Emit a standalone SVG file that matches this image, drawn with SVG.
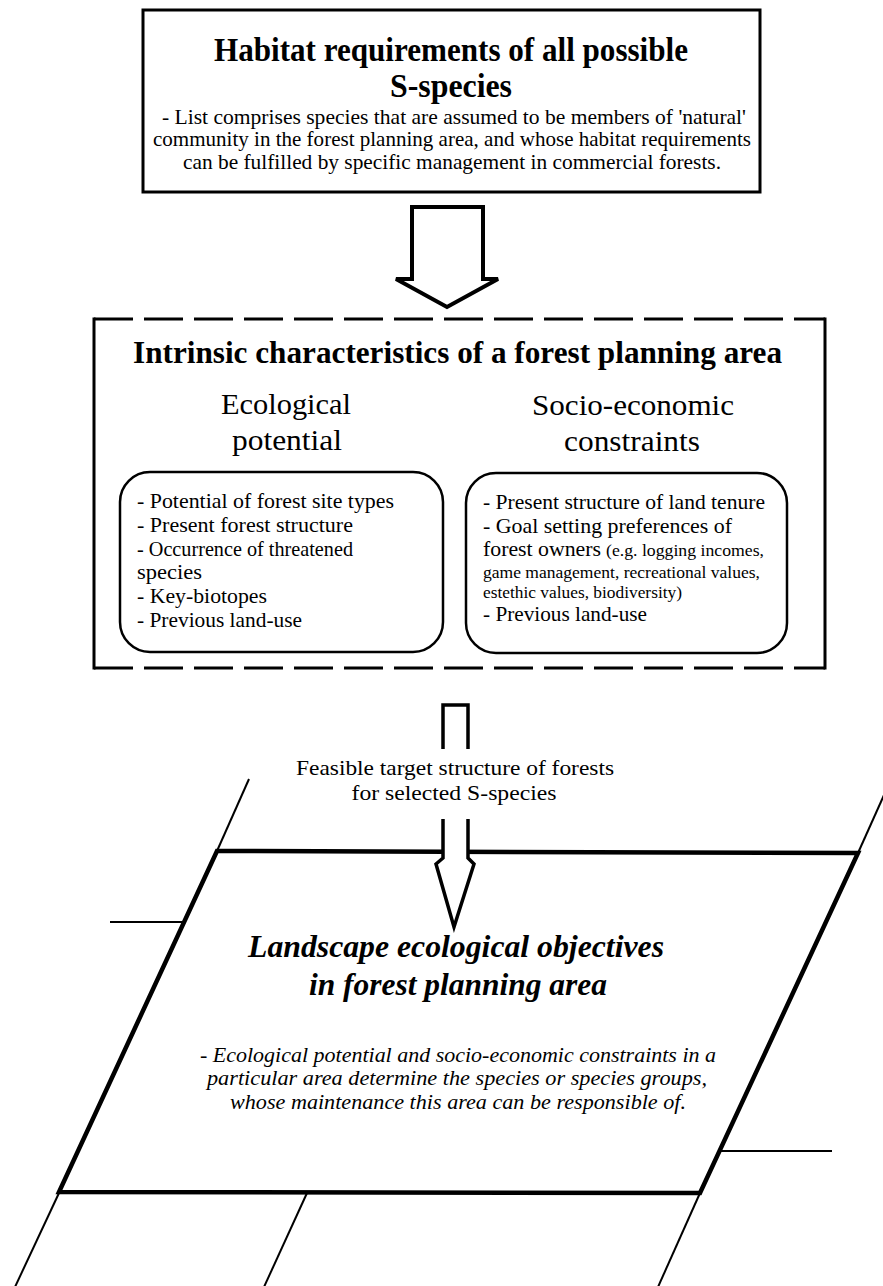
<svg xmlns="http://www.w3.org/2000/svg" width="883" height="1286" viewBox="0 0 883 1286">
<style>
text{font-family:"Liberation Serif","Times New Roman",serif;fill:#000}
.t1{font-size:34px;font-weight:bold}
.b20{font-size:21px}
.h2{font-size:31px;font-weight:bold}
.h3{font-size:30px}
.s16{font-size:17px}
.bi{font-size:32px;font-weight:bold;font-style:italic}
.it{font-size:21px;font-style:italic}
.c{text-anchor:middle}
.box{fill:#fff;stroke:#000;stroke-width:3}
.rb{fill:none;stroke:#000;stroke-width:2.5}
.thick{stroke:#000;stroke-width:4.5;fill:none}
.thin{stroke:#000;stroke-width:2;fill:none}
.dash{stroke:#000;stroke-width:3;fill:none;stroke-dasharray:39 11}
</style>
<rect width="883" height="1286" fill="#fff"/>

<g id="landscape">
  <line class="thin" x1="249" y1="779" x2="217" y2="851"/>
  <line class="thin" x1="884" y1="795" x2="858" y2="853"/>
  <line class="thin" x1="110" y1="922" x2="185" y2="922"/>
  <line class="thin" x1="719" y1="1151" x2="832" y2="1151"/>
  <line class="thin" x1="59" y1="1193" x2="15" y2="1287"/>
  <line class="thin" x1="307" y1="1193" x2="264" y2="1287"/>
  <line class="thin" x1="700" y1="1193" x2="658" y2="1287"/>
  <polygon class="thick" points="217,851 858,853 700,1193 59,1192"/>
  <text class="bi c" x="456" y="957" textLength="416" lengthAdjust="spacingAndGlyphs">Landscape ecological objectives</text>
  <text class="bi c" x="458" y="995" textLength="298" lengthAdjust="spacingAndGlyphs">in forest planning area</text>
  <text class="it c" x="458" y="1062" textLength="516" lengthAdjust="spacingAndGlyphs">- Ecological potential and socio-economic constraints in a</text>
  <text class="it c" x="457" y="1085" textLength="500" lengthAdjust="spacingAndGlyphs">particular area determine the species or species groups,</text>
  <text class="it c" x="458" y="1109" textLength="456" lengthAdjust="spacingAndGlyphs">whose maintenance this area can be responsible of.</text>
</g>

<g id="habitat">
  <rect class="box" x="143" y="10" width="617" height="182"/>
  <text class="t1 c" x="451" y="61" textLength="474" lengthAdjust="spacingAndGlyphs">Habitat requirements of all possible</text>
  <text class="t1 c" x="451" y="97" textLength="122" lengthAdjust="spacingAndGlyphs">S-species</text>
  <text class="b20 c" x="454" y="124" textLength="584" lengthAdjust="spacingAndGlyphs">- List comprises species that are assumed to be members of 'natural'</text>
  <text class="b20 c" x="452" y="146" textLength="598" lengthAdjust="spacingAndGlyphs">community in the forest planning area, and whose habitat requirements</text>
  <text class="b20 c" x="452" y="169" textLength="538" lengthAdjust="spacingAndGlyphs">can be fulfilled by specific management in commercial forests.</text>
</g>

<g id="intrinsic">
  <line class="dash" x1="94" y1="319" x2="825" y2="319"/>
  <line class="dash" x1="94" y1="668" x2="825" y2="668"/>
  <line stroke="#000" stroke-width="3" x1="94" y1="317.5" x2="94" y2="669.5"/>
  <line stroke="#000" stroke-width="3" x1="825" y1="317.5" x2="825" y2="669.5"/>
  <text class="h2" x="133" y="363" textLength="649" lengthAdjust="spacingAndGlyphs">Intrinsic characteristics of a forest planning area</text>
  <text class="h3 c" x="286" y="414" textLength="130" lengthAdjust="spacingAndGlyphs">Ecological</text>
  <text class="h3 c" x="287" y="450" textLength="110" lengthAdjust="spacingAndGlyphs">potential</text>
  <text class="h3 c" x="633" y="415" textLength="202" lengthAdjust="spacingAndGlyphs">Socio-economic</text>
  <text class="h3 c" x="632" y="451" textLength="136" lengthAdjust="spacingAndGlyphs">constraints</text>
</g>

<g id="ecological">
  <rect class="rb" x="120" y="472" width="323" height="180" rx="30" ry="30"/>
  <text class="b20" x="137" y="508" textLength="257" lengthAdjust="spacingAndGlyphs">- Potential of forest site types</text>
  <text class="b20" x="137" y="532" textLength="216" lengthAdjust="spacingAndGlyphs">- Present forest structure</text>
  <text class="b20" x="137" y="556" textLength="216" lengthAdjust="spacingAndGlyphs">- Occurrence of threatened</text>
  <text class="b20" x="137" y="579" textLength="65" lengthAdjust="spacingAndGlyphs">species</text>
  <text class="b20" x="137" y="603" textLength="130" lengthAdjust="spacingAndGlyphs">- Key-biotopes</text>
  <text class="b20" x="137" y="627" textLength="165" lengthAdjust="spacingAndGlyphs">- Previous land-use</text>
</g>

<g id="socioeconomic">
  <rect class="rb" x="466" y="473" width="321" height="180" rx="30" ry="30"/>
  <text class="b20" x="483" y="509" textLength="282" lengthAdjust="spacingAndGlyphs">- Present structure of land tenure</text>
  <text class="b20" x="483" y="533" textLength="249" lengthAdjust="spacingAndGlyphs">- Goal setting preferences of</text>
  <text class="b20" x="483" y="556" textLength="118" lengthAdjust="spacingAndGlyphs">forest owners</text>
  <text class="s16" x="606" y="556" textLength="158" lengthAdjust="spacingAndGlyphs">(e.g. logging incomes,</text>
  <text class="s16" x="483" y="578" textLength="277" lengthAdjust="spacingAndGlyphs">game management, recreational values,</text>
  <text class="s16" x="483" y="598" textLength="199" lengthAdjust="spacingAndGlyphs">estethic values, biodiversity)</text>
  <text class="b20" x="483" y="621" textLength="164" lengthAdjust="spacingAndGlyphs">- Previous land-use</text>
</g>

<g id="connectors">
  <polygon points="412,207 483,207 483,279 498,279 447,307 396,279 412,279" fill="#fff" stroke="#000" stroke-width="4" stroke-linejoin="miter"/>
  <path d="M443,749 V705 H468 V749" fill="none" stroke="#000" stroke-width="3.5"/>
  <polygon points="443,819 468,819 468,858 474,864 454,927 436,864 443,858" fill="#fff" stroke="none"/>
  <path d="M443,819 V858 L436,864 L454,927 L474,864 L468,858 V819" fill="none" stroke="#000" stroke-width="3.5"/>
  <text class="b20 c" x="455" y="775" textLength="318" lengthAdjust="spacingAndGlyphs">Feasible target structure of forests</text>
  <text class="b20 c" x="454" y="800" textLength="205" lengthAdjust="spacingAndGlyphs">for selected S-species</text>
</g>
</svg>
